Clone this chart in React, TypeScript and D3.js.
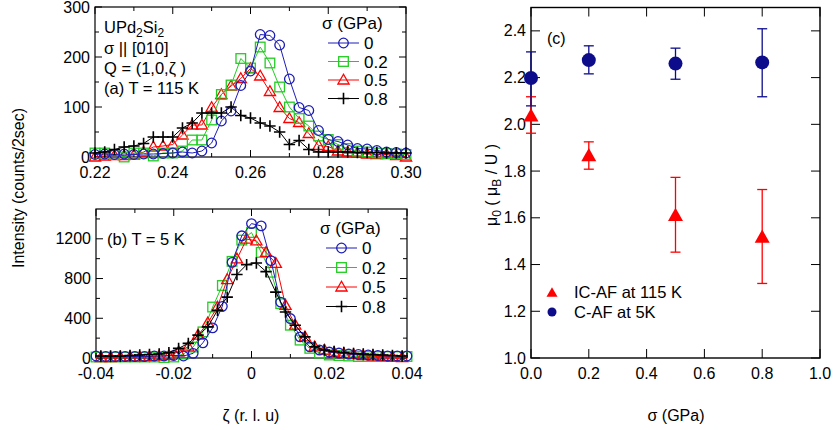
import React from "react";
import * as d3 from "d3";

// ---------- Panel (a): T = 115 K ----------
const aZeta = [0.22, 0.2225, 0.225, 0.2275, 0.23, 0.2325, 0.235, 0.2375, 0.24, 0.2425, 0.245, 0.2475, 0.25, 0.2525, 0.255, 0.2575, 0.26, 0.2625, 0.265, 0.2675, 0.27, 0.2725, 0.275, 0.2775, 0.28, 0.2825, 0.285, 0.2875, 0.29, 0.2925, 0.295, 0.2975, 0.30];
const aS0 = [5, 6, 5, 6, 5, 6, 6, 7, 8, 10, 8, 12, 28, 72, 92, 143, 172, 245, 243, 224, 156, 99, 93, 53, 35, 31, 24, 17, 16, 13, 10, 9, 8];
const aS02 = [8, 8, 5, 0, 8, 8, 2, 8, 8, 12, 34, 34, 74, 125, 144, 197, 178, 220, 188, 140, 100, 77, 62, 42, 35, 25, 17, 12, 10, 8, 7, 6, 5];
const aS05 = [0, 2, 3, 3, 4, 10, 20, 22, 25, 44, 64, 64, 99, 125, 142, 157, 177, 162, 131, 99, 77, 69, 47, 23, 21, 12, 10, 8, 6, 5, 5, 3, 0];
const aS08 = [8, 10, 15, 20, 22, 27, 40, 40, 40, 58, 68, 88, 88, 88, 100, 83, 78, 68, 62, 50, 25, 33, 15, 10, 10, 10, 10, 9, 9, 9, 8, 8, 8];
const aXTicks = [0.22, 0.24, 0.26, 0.28, 0.30];
const aXMinor = [0.23, 0.25, 0.27, 0.29];
const aYTicks = [0, 100, 200, 300];
const aYMinor = [50, 150, 250];

// ---------- Panel (b): T = 5 K ----------
const bZetaA = [-0.04, -0.0375, -0.035, -0.0325, -0.03, -0.0275, -0.025, -0.0225, -0.02, -0.0175, -0.015, -0.0125, -0.01, -0.0075, -0.005, -0.0025, 0, 0.0025, 0.005, 0.0075, 0.01, 0.0125, 0.015, 0.0175, 0.02, 0.0225, 0.025, 0.0275, 0.03, 0.0325, 0.035, 0.0375, 0.04];
const bZetaB = [-0.03875, -0.03625, -0.03375, -0.03125, -0.02875, -0.02625, -0.02375, -0.02125, -0.01875, -0.01625, -0.01375, -0.01125, -0.00875, -0.00625, -0.00375, -0.00125, 0.00125, 0.00375, 0.00625, 0.00875, 0.01125, 0.01375, 0.01625, 0.01875, 0.02125, 0.02375, 0.02625, 0.02875, 0.03125, 0.03375, 0.03625, 0.03875];
const bS0 = [20, 15, 15, 15, 15, 15, 20, 20, 25, 20, 47, 153, 303, 520, 963, 1230, 1353, 1330, 980, 563, 397, 213, 113, 80, 60, 50, 40, 35, 30, 25, 20, 20, 20];
const bS02 = [10, 10, 10, 10, 10, 10, 10, 5, 10, 40, 110, 263, 513, 730, 973, 1187, 1263, 1063, 863, 547, 330, 180, 97, 50, 30, 25, 20, 15, 15, 15, 15, 15, 15];
const bS05 = [5, 5, 8, 10, 10, 15, 20, 25, 63, 113, 230, 353, 513, 790, 997, 1197, 1180, 1063, 953, 530, 330, 213, 113, 80, 55, 45, 35, 25, 20, 15, 10, 5];
const bS08 = [20, 20, 20, 25, 30, 35, 40, 53, 97, 147, 230, 313, 480, 613, 840, 940, 957, 870, 663, 463, 330, 213, 113, 80, 65, 55, 45, 40, 35, 30, 25, 20];
const bXTicks = [-0.04, -0.02, 0, 0.02, 0.04];
const bXMinor = [-0.03, -0.01, 0.01, 0.03];
const bYTicks = [0, 400, 800, 1200];
const bYMinor = [200, 600, 1000, 1400];

// ---------- Panel (c): ordered moment ----------
const sigma = [0, 0.2, 0.5, 0.8];
const cafMu = [2.198, 2.275, 2.26, 2.265];
const cafLo = [2.079, 2.216, 2.193, 2.118];
const cafHi = [2.31, 2.336, 2.326, 2.409];
const icafMu = [2.035, 1.865, 1.609, 1.516];
const icafLo = [1.962, 1.808, 1.453, 1.319];
const icafHi = [2.118, 1.925, 1.773, 1.721];
const cXTicks = [0, 0.2, 0.4, 0.6, 0.8, 1.0];
const cYTicks = [1.0, 1.2, 1.4, 1.6, 1.8, 2.0, 2.2, 2.4];

const pressures = ["0", "0.2", "0.5", "0.8"];

const FONT = "'Liberation Sans', Arial, Helvetica, sans-serif";
const BLUE = "#1c1cb8";
const GREEN = "#22cc22";
const RED = "#ff0000";
const BLACK = "#000000";
const NAVY = "#0d0d8c";

type MType = "circle" | "square" | "triangle" | "cross";

function Marker({ type, x, y, color }: { type: MType; x: number; y: number; color: string }) {
  if (type === "circle") return <circle cx={x} cy={y} r={4.8} fill="none" stroke={color} strokeWidth={1.3} />;
  if (type === "square") return <rect x={x - 4.8} y={y - 4.8} width={9.6} height={9.6} fill="none" stroke={color} strokeWidth={1.3} />;
  if (type === "triangle")
    return <path d={`M${x},${y - 5.8}L${x + 5.6},${y + 4}L${x - 5.6},${y + 4}Z`} fill="none" stroke={color} strokeWidth={1.3} />;
  return <path d={`M${x - 5.7},${y}H${x + 5.7}M${x},${y - 5.7}V${y + 5.7}`} fill="none" stroke={color} strokeWidth={1.6} />;
}

function Series({ xs, ys, sx, sy, type, color }: any) {
  const line = d3.line<number>().x((_, i) => sx(xs[i])).y((d) => sy(d));
  return (
    <g>
      <path d={line(ys) || ""} fill="none" stroke={color} strokeWidth={1} />
      {ys.map((v: number, i: number) => (
        <Marker key={i} type={type} x={sx(xs[i])} y={sy(v)} color={color} />
      ))}
    </g>
  );
}

function Box({ sx, sy, xt, xm, yt, ym, xfmt, yfmt, tl, ml, sw }: any) {
  const [x0, x1] = sx.range();
  const [y0, y1] = sy.range(); // y0 bottom, y1 top
  const els: any[] = [];
  xt.forEach((v: number, i: number) => {
    const x = sx(v);
    els.push(<line key={"xb" + i} x1={x} x2={x} y1={y0} y2={y0 - tl} stroke="#000" strokeWidth={1} />);
    els.push(<line key={"xt" + i} x1={x} x2={x} y1={y1} y2={y1 + tl} stroke="#000" strokeWidth={1} />);
    els.push(
      <text key={"xl" + i} x={x} y={y0 + 21} textAnchor="middle" fontSize={16} fontFamily={FONT}>
        {xfmt(v)}
      </text>
    );
  });
  xm.forEach((v: number, i: number) => {
    const x = sx(v);
    els.push(<line key={"xmb" + i} x1={x} x2={x} y1={y0} y2={y0 - ml} stroke="#000" strokeWidth={1} />);
    els.push(<line key={"xmt" + i} x1={x} x2={x} y1={y1} y2={y1 + ml} stroke="#000" strokeWidth={1} />);
  });
  yt.forEach((v: number, i: number) => {
    const y = sy(v);
    els.push(<line key={"yl" + i} x1={x0} x2={x0 + tl} y1={y} y2={y} stroke="#000" strokeWidth={1} />);
    els.push(<line key={"yr" + i} x1={x1} x2={x1 - tl} y1={y} y2={y} stroke="#000" strokeWidth={1} />);
    els.push(
      <text key={"ylb" + i} x={x0 - 5} y={y + 5.5} textAnchor="end" fontSize={16} fontFamily={FONT}>
        {yfmt(v)}
      </text>
    );
  });
  ym.forEach((v: number, i: number) => {
    const y = sy(v);
    els.push(<line key={"yml" + i} x1={x0} x2={x0 + ml} y1={y} y2={y} stroke="#000" strokeWidth={1} />);
    els.push(<line key={"ymr" + i} x1={x1} x2={x1 - ml} y1={y} y2={y} stroke="#000" strokeWidth={1} />);
  });
  return (
    <g>
      <rect x={x0} y={y1} width={x1 - x0} height={y0 - y1} fill="none" stroke="#000" strokeWidth={sw || 1.2} />
      {els}
    </g>
  );
}

function Legend({ x, y, dy }: { x: number; y: number; dy: number }) {
  const types: MType[] = ["circle", "square", "triangle", "cross"];
  const colors = [BLUE, GREEN, RED, BLACK];
  return (
    <g fontFamily={FONT} fontSize={17}>
      <text x={x - 6} y={y}>σ (GPa)</text>
      {pressures.map((p, i) => {
        const yy = y + 14 + i * dy;
        return (
          <g key={p}>
            <line x1={x} x2={x + 31} y1={yy} y2={yy} stroke={colors[i]} strokeWidth={1} />
            <Marker type={types[i]} x={x + 15.5} y={yy} color={colors[i]} />
            <text x={x + 36} y={yy + 6}>{p}</text>
          </g>
        );
      })}
    </g>
  );
}

export default function App() {
  const xA = d3.scaleLinear().domain([0.22, 0.3]).range([95, 406]);
  const yA = d3.scaleLinear().domain([0, 300]).range([157, 7]);
  const xB = d3.scaleLinear().domain([-0.04, 0.04]).range([96, 407]);
  const yB = d3.scaleLinear().domain([0, 1500]).range([358, 209]);
  const xC = d3.scaleLinear().domain([0, 1]).range([531, 820]);
  const yC = d3.scaleLinear().domain([1, 2.5]).range([358, 7.5]);

  const triPath = (x: number, y: number, s: number) => `M${x},${y - s * 1.05}L${x + s},${y + s * 0.7}L${x - s},${y + s * 0.7}Z`;

  return (
    <svg width={833} height={430} style={{ position: "absolute", left: 0, top: 0, background: "#fff" }} fontFamily={FONT}>
      {/* Panel (a) */}
      <Box sx={xA} sy={yA} xt={aXTicks} xm={aXMinor} yt={aYTicks} ym={aYMinor} xfmt={(v: number) => v.toFixed(2)} yfmt={(v: number) => String(v)} tl={7} ml={4} />
      <Series xs={aZeta} ys={aS05} sx={xA} sy={yA} type="triangle" color={RED} />
      <Series xs={aZeta} ys={aS02} sx={xA} sy={yA} type="square" color={GREEN} />
      <Series xs={aZeta} ys={aS0} sx={xA} sy={yA} type="circle" color={BLUE} />
      <Series xs={aZeta} ys={aS08} sx={xA} sy={yA} type="cross" color={BLACK} />
      <g fontSize={16.5}>
        <text x={104} y={33}>
          UPd<tspan fontSize={12} dy={4}>2</tspan>
          <tspan dy={-4}>Si</tspan>
          <tspan fontSize={12} dy={4}>2</tspan>
        </text>
        <text x={104} y={54}>σ || [010]</text>
        <text x={104} y={74}>Q = (1,0,ζ )</text>
        <text x={104} y={94}>(a) T = 115 K</text>
      </g>
      <Legend x={328} y={29} dy={18.5} />

      {/* Panel (b) */}
      <Box sx={xB} sy={yB} xt={bXTicks} xm={bXMinor} yt={bYTicks} ym={bYMinor} xfmt={(v: number) => (v === 0 ? "0" : v.toFixed(2))} yfmt={(v: number) => String(v)} tl={7} ml={4} />
      <Series xs={bZetaA} ys={bS02} sx={xB} sy={yB} type="square" color={GREEN} />
      <Series xs={bZetaB} ys={bS05} sx={xB} sy={yB} type="triangle" color={RED} />
      <Series xs={bZetaA} ys={bS0} sx={xB} sy={yB} type="circle" color={BLUE} />
      <Series xs={bZetaB} ys={bS08} sx={xB} sy={yB} type="cross" color={BLACK} />
      <text x={107} y={245} fontSize={16.5}>(b) T = 5 K</text>
      <Legend x={326} y={234} dy={19.5} />

      {/* shared labels */}
      <text transform="translate(24,188) rotate(-90)" textAnchor="middle" fontSize={16}>Intensity (counts/2sec)</text>
      <text x={251} y={421} textAnchor="middle" fontSize={16}>ζ (r. l. u)</text>

      {/* Panel (c) */}
      <Box sx={xC} sy={yC} xt={cXTicks} xm={[]} yt={cYTicks} ym={[]} xfmt={(v: number) => v.toFixed(1)} yfmt={(v: number) => v.toFixed(1)} tl={9} ml={0} sw={1.4} />
      {sigma.map((s, i) => (
        <g key={"ic" + i} stroke={RED} strokeWidth={1.3}>
          <line x1={xC(s)} x2={xC(s)} y1={yC(icafLo[i])} y2={yC(icafHi[i])} />
          <line x1={xC(s) - 5} x2={xC(s) + 5} y1={yC(icafLo[i])} y2={yC(icafLo[i])} />
          <line x1={xC(s) - 5} x2={xC(s) + 5} y1={yC(icafHi[i])} y2={yC(icafHi[i])} />
          <path d={triPath(xC(s), yC(icafMu[i]), 7.5)} fill={RED} stroke="none" />
        </g>
      ))}
      {sigma.map((s, i) => (
        <g key={"c" + i} stroke={NAVY} strokeWidth={1.3}>
          <line x1={xC(s)} x2={xC(s)} y1={yC(cafLo[i])} y2={yC(cafHi[i])} />
          <line x1={xC(s) - 5} x2={xC(s) + 5} y1={yC(cafLo[i])} y2={yC(cafLo[i])} />
          <line x1={xC(s) - 5} x2={xC(s) + 5} y1={yC(cafHi[i])} y2={yC(cafHi[i])} />
          <circle cx={xC(s)} cy={yC(cafMu[i])} r={7} fill={NAVY} stroke="none" />
        </g>
      ))}
      <text x={547} y={44} fontSize={16}>(c)</text>
      <path d={triPath(552, 293, 5.5)} fill={RED} />
      <text x={574} y={298} fontSize={16.5}>IC-AF at 115 K</text>
      <circle cx={552} cy={312} r={4.5} fill={NAVY} />
      <text x={574} y={318} fontSize={16.5}>C-AF at 5K</text>
      <text transform="translate(497,185) rotate(-90)" textAnchor="middle" fontSize={16}>
        μ<tspan fontSize={12} dy={4}>0</tspan>
        <tspan dy={-4}> ( μ</tspan>
        <tspan fontSize={12} dy={4}>B</tspan>
        <tspan dy={-4}> / U )</tspan>
      </text>
      <text x={676} y={421} textAnchor="middle" fontSize={16}>σ (GPa)</text>
    </svg>
  );
}
